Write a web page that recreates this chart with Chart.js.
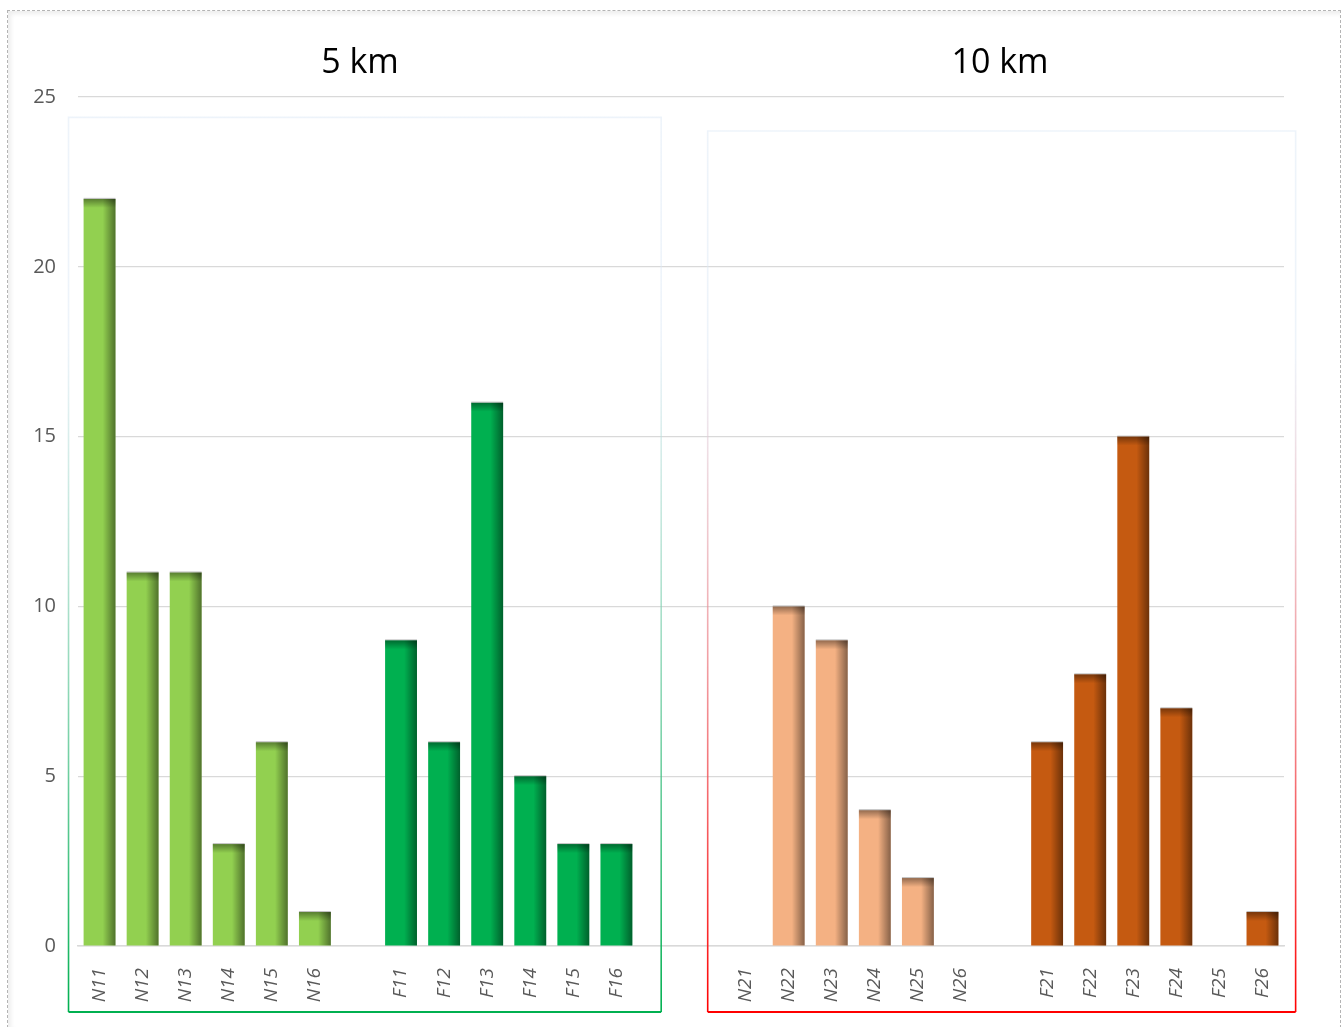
<!DOCTYPE html>
<html>
<head>
<meta charset="utf-8">
<script src="https://cdn.jsdelivr.net/npm/chart.js@4.4.1/dist/chart.umd.min.js"></script>
<style>
  html, body { margin: 0; padding: 0; background: #fff; }
  #frame {
    position: absolute; left: 7px; top: 10px; width: 1332px; height: 1016px;
    border: 1px dashed #b4b4b4; box-shadow: inset 3px 3px 4px rgba(0,0,0,0.07);
  }
  #wrap { position: absolute; left: 0; top: 0; width: 1344px; height: 1027px; }
</style>
</head>
<body>
<div id="frame"></div>
<div id="wrap"><canvas id="chart"></canvas></div>
<script>
// kategoriler ('' = boşluk)
const categories = ['N11','N12','N13','N14','N15','N16','',
                    'F11','F12','F13','F14','F15','F16','','',
                    'N21','N22','N23','N24','N25','N26','',
                    'F21','F22','F23','F24','F25','F26'];
const values = [22, 11, 11, 3, 6, 1, null,
                9, 6, 16, 5, 3, 3, null, null,
                0, 10, 9, 4, 2, 0, null,
                6, 8, 15, 7, 0, 1];
const yTicks = [0, 5, 10, 15, 20, 25];
const groupTitles = ['5 km', '10 km'];

function barColor(label) {
  if (label.startsWith('N1')) return '#92D050';
  if (label.startsWith('F1')) return '#00B050';
  if (label.startsWith('N2')) return '#F4B183';
  return '#C55A11';
}

// Çubuklara gölge efekti
const shadePlugin = {
  id: 'shade',
  afterDatasetsDraw(chart) {
    const ctx = chart.ctx;
    chart.getDatasetMeta(0).data.forEach(function(bar, i) {
      if (!values[i]) return;
      const left = bar.x - bar.width / 2, right = bar.x + bar.width / 2;
      const top = bar.y, bottom = bar.base;
      ctx.save();
      let g = ctx.createLinearGradient(left, 0, right, 0);
      g.addColorStop(0, 'rgba(0,0,0,0)');
      g.addColorStop(0.6, 'rgba(0,0,0,0)');
      g.addColorStop(1, 'rgba(0,0,0,0.45)');
      ctx.fillStyle = g;
      ctx.fillRect(left, top, right - left, bottom - top);
      g = ctx.createLinearGradient(0, top, 0, top + 9);
      g.addColorStop(0, 'rgba(0,0,0,0.4)');
      g.addColorStop(1, 'rgba(0,0,0,0)');
      ctx.fillStyle = g;
      ctx.fillRect(left, top, right - left, Math.min(9, bottom - top));
      ctx.fillStyle = 'rgba(150,150,150,0.6)';
      ctx.fillRect(left, top - 1, right - left, 1);
      ctx.restore();
    });
  }
};

// Grup kutuları ve başlıklar
const groupPlugin = {
  id: 'groups',
  afterDraw(chart) {
    const ctx = chart.ctx, x = chart.scales.x, y = chart.scales.y;
    const step = x.getPixelForValue(1) - x.getPixelForValue(0);
    const bottom = chart.chartArea.bottom + 66;
    const boxes = [
      { l: x.getPixelForValue(0) - step * 0.72, r: x.getPixelForValue(12) + step * 1.04, t: y.getPixelForValue(24.4), c: [0, 176, 80] },
      { l: x.getPixelForValue(15) - step * 0.88, r: x.getPixelForValue(27) + step * 0.77, t: y.getPixelForValue(24), c: [255, 0, 0] }
    ];
    ctx.save();
    boxes.forEach(function(b) {
      const col = 'rgb(' + b.c.join(',') + ')';
      const g = ctx.createLinearGradient(0, b.t, 0, bottom);
      g.addColorStop(0, 'rgba(220,232,245,0.5)');
      g.addColorStop(0.25, 'rgba(220,232,245,0.5)');
      g.addColorStop(1, col);
      ctx.lineWidth = 1.6;
      ctx.strokeStyle = g;
      ctx.beginPath();
      ctx.moveTo(b.l, bottom); ctx.lineTo(b.l, b.t); ctx.lineTo(b.r, b.t); ctx.lineTo(b.r, bottom);
      ctx.stroke();
      ctx.lineWidth = 2;
      ctx.strokeStyle = col;
      ctx.beginPath();
      ctx.moveTo(b.l, bottom); ctx.lineTo(b.r, bottom);
      ctx.stroke();
    });
    ctx.fillStyle = '#000';
    ctx.font = '34px "Open Sans", sans-serif';
    ctx.textAlign = 'center';
    ctx.textBaseline = 'middle';
    const c1 = (x.getPixelForValue(0) + x.getPixelForValue(12)) / 2;
    const c2 = (x.getPixelForValue(15) + x.getPixelForValue(27)) / 2 - 4;
    ctx.fillText(groupTitles[0], c1 + 2, 63);
    ctx.fillText(groupTitles[1], c2, 63);
    ctx.restore();
  }
};

new Chart(document.getElementById('chart'), {
  type: 'bar',
  data: {
    labels: categories,
    datasets: [{
      data: values,
      backgroundColor: categories.map(barColor),
      borderWidth: 0,
      barPercentage: 0.74,
      categoryPercentage: 1
    }]
  },
  options: {
    responsive: true,
    maintainAspectRatio: false,
    animation: false,
    layout: { padding: { top: 97, right: 60, left: 0, bottom: 0 } },
    plugins: { legend: { display: false }, tooltip: { enabled: false } },
    scales: {
      x: {
        grid: { display: false },
        border: { color: '#d9d9d9', width: 1.5 },
        ticks: {
          autoSkip: false, maxRotation: 90, minRotation: 90, padding: 14,
          color: '#595959', font: { family: '"Open Sans", sans-serif', size: 19, style: 'italic' }
        },
        afterFit: function(s) { s.height = 81; }
      },
      y: {
        min: 0, max: 25,
        afterBuildTicks: function(s) { s.ticks = yTicks.map(function(v) { return { value: v }; }); },
        grid: { color: '#d9d9d9', lineWidth: 1.2, drawTicks: false },
        border: { display: false },
        ticks: {
          padding: 22, color: '#595959',
          font: { family: '"Open Sans", sans-serif', size: 20 }
        },
        afterFit: function(s) { s.width = 78; }
      }
    }
  },
  plugins: [shadePlugin, groupPlugin]
});
</script>
</body>
</html>
